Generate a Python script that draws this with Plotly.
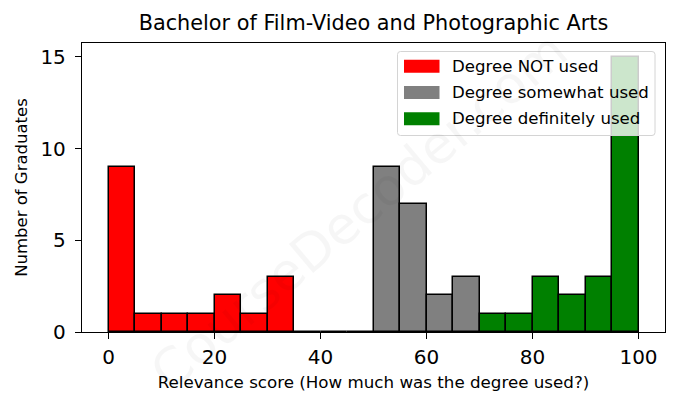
import plotly.graph_objects as go

bin_edges = [0, 5, 10, 15, 20, 25, 30, 35, 40, 45, 50, 55, 60, 65, 70, 75, 80, 85, 90, 95, 100]
counts = [9, 1, 1, 1, 2, 1, 3, 0, 0, 0, 9, 7, 2, 3, 1, 1, 3, 2, 3, 15]
series_names = ["Degree NOT used", "Degree somewhat used", "Degree definitely used"]
series_colors = ["red", "gray", "green"]
series_ranges = [(0, 50), (50, 70), (70, 100)]

# the page body adds an 8px offset; work in reference-page pixels
OFF = 8
W, H = 678 - OFF, 408 - OFF
PL, PT, PR, PB = 82, 43, 665, 332          # plot box in page pixels
L, T = PL - OFF, PT - OFF
PW, PH = PR - PL, PB - PT
R, B = W - L - PW, H - T - PH


def px_x(px):
    return (px - PL) / PW


def px_y(py):
    return (PB - py) / PH


fig = go.Figure()
for name, color, (lo, hi) in zip(series_names, series_colors, series_ranges):
    xs, ys = [], []
    for i, c in enumerate(counts):
        left, right = bin_edges[i], bin_edges[i + 1]
        if left >= lo and right <= hi:
            xs.append((left + right) / 2)
            ys.append(c)
    fig.add_trace(go.Bar(
        x=xs, y=ys, width=5, name=name, showlegend=False,
        marker=dict(color=color, line=dict(color="black", width=1.5)),
    ))

# matplotlib-like legend
shapes = []
annotations = []
bx0, bx1, by0, by1, rad = 397.5, 655, 51.5, 135.5, 3
path = (f"M {px_x(bx0 + rad)},{px_y(by0)} L {px_x(bx1 - rad)},{px_y(by0)} "
        f"Q {px_x(bx1)},{px_y(by0)} {px_x(bx1)},{px_y(by0 + rad)} "
        f"L {px_x(bx1)},{px_y(by1 - rad)} Q {px_x(bx1)},{px_y(by1)} {px_x(bx1 - rad)},{px_y(by1)} "
        f"L {px_x(bx0 + rad)},{px_y(by1)} Q {px_x(bx0)},{px_y(by1)} {px_x(bx0)},{px_y(by1 - rad)} "
        f"L {px_x(bx0)},{px_y(by0 + rad)} Q {px_x(bx0)},{px_y(by0)} {px_x(bx0 + rad)},{px_y(by0)} Z")
shapes.append(dict(type="path", path=path, xref="paper", yref="paper", layer="above",
                   fillcolor="rgba(255,255,255,0.8)", line=dict(color="#d4d4d4", width=1)))
row_centers = [66.3, 92.5, 118.7]
for name, color, cy in zip(series_names, series_colors, row_centers):
    shapes.append(dict(type="rect", xref="paper", yref="paper", layer="above",
                       x0=px_x(404), x1=px_x(439.5), y0=px_y(cy + 6.5), y1=px_y(cy - 6.5),
                       fillcolor=color, line=dict(width=0)))
    annotations.append(dict(text=name, x=px_x(450), y=px_y(cy), xref="paper", yref="paper",
                            xanchor="left", yanchor="middle", showarrow=False,
                            font=dict(size=16.6, color="black")))

annotations.append(dict(text="CourseDecoder.com", x=0.475, y=0.42, xref="paper", yref="paper",
                        showarrow=False, textangle=-40,
                        font=dict(size=52, color="rgba(0,0,0,0.035)")))

font = "DejaVu Sans, sans-serif"
fig.update_layout(
    width=W, height=H,
    margin=dict(l=L, r=R, t=T, b=B, autoexpand=False),
    paper_bgcolor="white", plot_bgcolor="white",
    font=dict(family=font, color="black"),
    title=dict(text="Bachelor of Film-Video and Photographic Arts",
               x=(373.5 - OFF) / W, xref="container", xanchor="center",
               y=1 - (23 - OFF) / H, yref="container", yanchor="middle", font=dict(size=20.8)),
    bargap=0,
    showlegend=False,
    xaxis=dict(range=[-5, 105], tickvals=[0, 20, 40, 60, 80, 100], ticks="outside", ticklen=6,
               tickwidth=1.3, tickcolor="black", showline=True, linecolor="black", linewidth=1.3,
               mirror=True, showgrid=False, zeroline=False, tickfont=dict(size=20), automargin=False,
               ticklabelstandoff=1,
               title=dict(text="Relevance score (How much was the degree used?)", font=dict(size=16.7), standoff=8)),
    yaxis=dict(range=[0, 15.75], tickvals=[0, 5, 10, 15], ticks="outside", ticklen=6,
               tickwidth=1.3, tickcolor="black", showline=True, linecolor="black", linewidth=1.3,
               mirror=True, showgrid=False, zeroline=False, tickfont=dict(size=20), automargin=False,
               ticklabelstandoff=5,
               title=dict(text="Number of Graduates", font=dict(size=16.5), standoff=8)),
    shapes=shapes,
    annotations=annotations,
)

fig.write_html("out.html")
